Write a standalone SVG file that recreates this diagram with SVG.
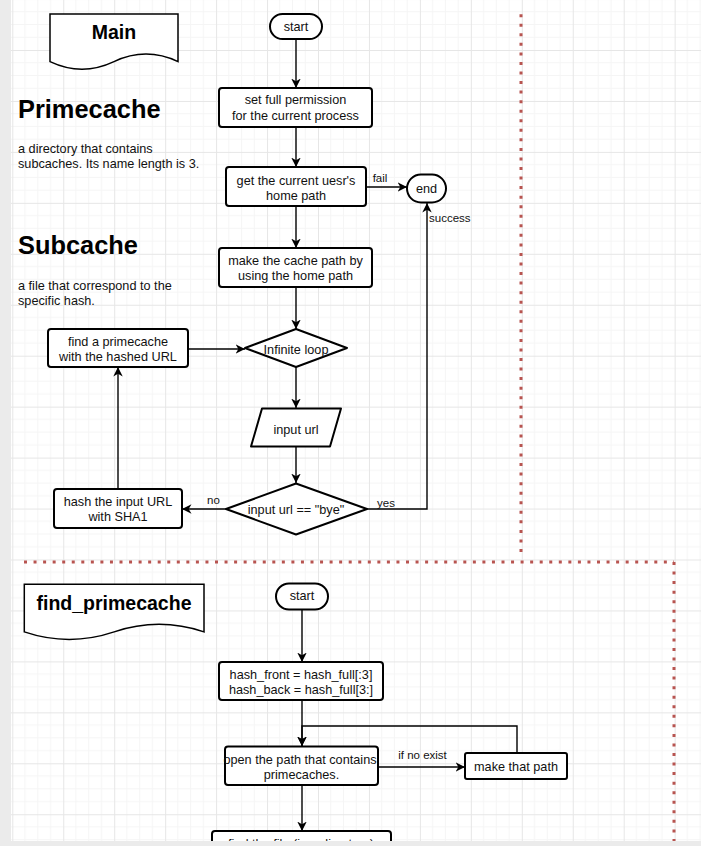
<svg xmlns="http://www.w3.org/2000/svg" width="701" height="846" viewBox="0 0 701 846">
<defs>
<pattern id="grid" patternUnits="userSpaceOnUse" x="12.3" y="-0.95" width="50.95" height="50.95">
<path d="M12.74 0V50.95M25.47 0V50.95M38.21 0V50.95M0 12.74H50.95M0 25.47H50.95M0 38.21H50.95" stroke="#f5f5f5" stroke-width="1" fill="none"/>
<path d="M0.5 0V50.95M0 0.5H50.95" stroke="#e6e6e6" stroke-width="1" fill="none"/>
</pattern>
<marker id="arr" viewBox="0 0 10 10" markerWidth="9.5" markerHeight="9.5" refX="10" refY="5" orient="auto" markerUnits="userSpaceOnUse">
<path d="M0,0 L10,5 L0,10 L3,5 Z" fill="#000"/>
</marker>
</defs>
<style>
.box{fill:#fff;stroke:#000;stroke-width:2;stroke-linejoin:round}
.doc{fill:#fff;stroke:#000;stroke-width:1.5}
.t{font-family:"Liberation Sans",Arial,Helvetica,sans-serif;font-size:12.7px;fill:#111;text-anchor:middle}
.el{font-family:"Liberation Sans",Arial,Helvetica,sans-serif;font-size:11.5px;fill:#111;text-anchor:middle}
.h{font-family:"Liberation Sans",Arial,Helvetica,sans-serif;font-weight:bold;fill:#000}
.d{font-family:"Liberation Sans",Arial,Helvetica,sans-serif;font-size:12.7px;fill:#111}
.e{fill:none;stroke:#000;stroke-width:1.4}
.ea{fill:none;stroke:#000;stroke-width:1.4;marker-end:url(#arr)}
.sep{fill:none;stroke:#b85450;stroke-width:3;stroke-dasharray:3 6.55}
</style>
<rect x="0" y="0" width="701" height="846" fill="#fff"/>
<rect x="0" y="0" width="701" height="846" fill="url(#grid)"/>

<g id="separators">
<path class="sep" d="M521 14.2V556"/>
<path class="sep" d="M24 562H674"/>
<path class="sep" d="M674 562V846"/>
</g>

<g id="main-title">
<path class="doc" d="M50,14 H178 V61.6 Q146,46.5 114,61.6 Q82,76.7 50,61.6 Z"/>
<text class="h" x="114" y="39" font-size="19.5" text-anchor="middle">Main</text>
</g>
<g id="primecache-note">
<text class="h" x="18" y="117.5" font-size="25.4">Primecache</text>
<text class="d" x="18" y="152.5">a directory that contains</text>
<text class="d" x="18" y="167.5">subcaches. Its name length is 3.</text>
</g>
<g id="subcache-note">
<text class="h" x="18" y="254" font-size="25.4">Subcache</text>
<text class="d" x="18" y="289.5">a file that correspond to the</text>
<text class="d" x="18" y="304.5">specific hash.</text>
</g>

<g id="connectors">
<path class="ea" d="M296 39V88"/>
<path class="ea" d="M296 127V167"/>
<path class="ea" d="M366 187H407"/>
<path class="ea" d="M296 206V248"/>
<path class="ea" d="M296 287V329"/>
<path class="ea" d="M296 367V408"/>
<path class="ea" d="M296 447V483"/>
<path class="ea" d="M226 509H182"/>
<path class="ea" d="M118 489V367"/>
<path class="ea" d="M188 349H245"/>
<path class="ea" d="M367 509H427V203"/>
<path class="ea" d="M302 609V662"/>
<path class="ea" d="M302 700V746"/>
<path class="ea" d="M517 753V726H302V746"/>
<path class="ea" d="M378 767H465"/>
<path class="ea" d="M302 785V831"/>
<text class="el" x="380" y="182">fail</text>
<text class="el" x="429" y="221.5" style="text-anchor:start">success</text>
<text class="el" x="213.5" y="504">no</text>
<text class="el" x="386" y="507">yes</text>
<text class="el" x="422.5" y="758.5">if no exist</text>
</g>

<g id="start">
<rect class="box" x="270" y="14" width="52" height="25" rx="12.5"/>
<text class="t" x="296" y="31">start</text>
</g>
<g id="set-permission">
<rect class="box" x="219" y="88" width="153" height="39" rx="3"/>
<text class="t" x="295.5" y="104.3">set full permission</text>
<text class="t" x="295.5" y="119.5">for the current process</text>
</g>
<g id="get-home">
<rect class="box" x="226" y="167" width="140" height="39" rx="3"/>
<text class="t" x="296" y="184.5">get the current uesr's</text>
<text class="t" x="296" y="199.5">home path</text>
</g>
<g id="end">
<rect class="box" x="407" y="174.5" width="39" height="28" rx="14"/>
<text class="t" x="426.5" y="193">end</text>
</g>
<g id="make-cache-path">
<rect class="box" x="219" y="248" width="153" height="39" rx="3"/>
<text class="t" x="295.5" y="264.5">make the cache path by</text>
<text class="t" x="295.5" y="279.5">using the home path</text>
</g>
<g id="infinite-loop">
<path class="box" d="M296 329L347 348L296 367L245 348Z"/>
<text class="t" x="296" y="353.5">Infinite loop</text>
</g>
<g id="find-primecache-call">
<rect class="box" x="48" y="329" width="140" height="38" rx="3"/>
<text class="t" x="118" y="346">find a primecache</text>
<text class="t" x="118" y="360.5">with the hashed URL</text>
</g>
<g id="input-url">
<path class="box" d="M262 408.5H341L330 446.5H251Z"/>
<text class="t" x="296" y="434.4">input url</text>
</g>
<g id="is-bye">
<path class="box" d="M296 483.5L367 509L296 534.5L226 509Z"/>
<text class="t" x="296" y="513.7">input url == "bye"</text>
</g>
<g id="hash-url">
<rect class="box" x="54" y="489" width="128" height="39" rx="3"/>
<text class="t" x="118" y="505.5">hash the input URL</text>
<text class="t" x="118" y="521">with SHA1</text>
</g>

<g id="find-primecache-title">
<path class="doc" d="M24.3,584.3 H204 V631.9 Q159.1,616.8 114.15,631.9 Q69.2,647 24.3,631.9 Z"/>
<text class="h" x="114" y="610" font-size="19.5" text-anchor="middle">find_primecache</text>
</g>
<g id="start2">
<rect class="box" x="276" y="583.5" width="52" height="26" rx="13"/>
<text class="t" x="302" y="600.4">start</text>
</g>
<g id="hash-split">
<rect class="box" x="219" y="662" width="164" height="38" rx="3"/>
<text class="t" x="301" y="679">hash_front = hash_full[:3]</text>
<text class="t" x="301" y="693.5">hash_back = hash_full[3:]</text>
</g>
<g id="open-path">
<rect class="box" x="225" y="746.5" width="153" height="38.5" rx="3"/>
<text class="t" x="300" y="764.4">open the path that contains</text>
<text class="t" x="301.5" y="779.4">primecaches.</text>
</g>
<g id="make-path">
<rect class="box" x="465" y="753" width="102" height="26" rx="2"/>
<text class="t" x="516" y="771">make that path</text>
</g>
<g id="find-file">
<rect class="box" x="212" y="831" width="179" height="40" rx="3"/>
<text class="t" x="301" y="847.5">find the file (in a directory)</text>
</g>

<rect x="0" y="841" width="701" height="5" fill="#ebebeb"/>
<rect x="0" y="0" width="11" height="846" fill="#ebebeb"/>
</svg>
